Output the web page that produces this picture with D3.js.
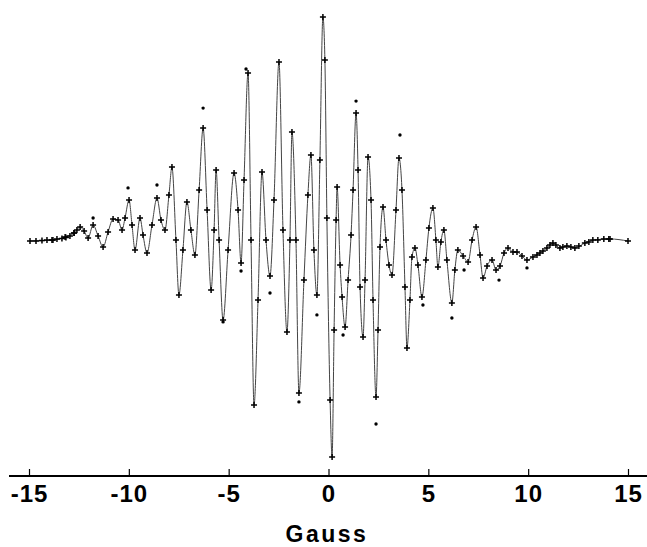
<!DOCTYPE html>
<html>
<head>
<meta charset="utf-8">
<script src="https://cdn.jsdelivr.net/npm/d3@7"></script>
<style>
  body { margin: 0; background: #fff; }
  svg { display: block; }
</style>
</head>
<body>
<svg id="chart"></svg>
<script>
// field positions (Gauss) and signal (arbitrary units) of the fitted curve
const fieldG = [-14.95, -13.80, -13.19, -12.74, -12.44, -12.24, -12.04, -11.79, -11.54, -11.29,
  -11.04, -10.79, -10.54, -10.34, -10.19, -9.99, -9.84, -9.69, -9.44, -9.29,
  -9.09, -8.84, -8.59, -8.39, -8.19, -7.99, -7.84, -7.64, -7.49, -7.29,
  -7.09, -6.89, -6.69, -6.48, -6.28, -6.08, -5.88, -5.73, -5.63, -5.48,
  -5.28, -5.03, -4.73, -4.53, -4.38, -4.23, -4.03, -3.88, -3.73, -3.53,
  -3.33, -3.13, -2.93, -2.73, -2.48, -2.28, -2.08, -1.93, -1.83, -1.63,
  -1.48, -1.23, -1.03, -0.88, -0.73, -0.58, -0.43, -0.28, -0.18, -0.08,
  0.08, 0.18, 0.28, 0.38, 0.43, 0.58, 0.68, 0.83, 0.98, 1.13,
  1.23, 1.38, 1.48, 1.58, 1.73, 1.83, 1.98, 2.13, 2.23, 2.38,
  2.48, 2.58, 2.73, 2.88, 3.03, 3.18, 3.38, 3.53, 3.68, 3.83,
  3.93, 4.08, 4.18, 4.33, 4.48, 4.68, 4.88, 5.03, 5.23, 5.38,
  5.48, 5.63, 5.78, 5.93, 6.18, 6.33, 6.48, 6.74, 6.99, 7.19,
  7.39, 7.59, 7.74, 7.94, 8.19, 8.39, 8.59, 8.79, 8.99, 9.24,
  9.44, 9.69, 9.94, 10.24, 10.59, 10.94, 11.24, 11.59, 11.94, 12.34,
  12.84, 13.24, 14.10, 15.0];
const signal = [0, 0.4, 1.8, 3.5, 6.2, 4.4, 1.3, 7.1, 2.2, -2.7,
  4.0, 9.7, 9.3, 4.9, 10.2, 18.1, 7.1, -4.0, 10.2, 2.7,
  -5.3, 7.1, 19.0, 9.3, 4.9, 20.4, 32.7, 0.4, -23.9, -4.0,
  17.3, 4.9, -6.2, 22.6, 50.0, 13.7, -21.7, 4.9, 31.4, 0.4,
  -35.0, -4.0, 30.1, 13.7, -9.7, 27.0, 74.3, 0.4, -72.6, -26.1,
  30.5, 0.4, -15.5, 18.1, 79.2, 4.9, -40.3, 0.4, 48.2, 0.4,
  -67.3, -17.3, 20.4, 38.1, -4.0, -23.9, 35.8, 99.1, 80.1, 10.2,
  -70.4, -95.6, -39.4, 9.3, 23.9, -10.6, -24.8, -38.1, -17.3, 2.7,
  22.6, 56.6, 31.4, -20.4, -42.5, -17.3, 37.2, 18.1, -26.1, -69.0,
  -39.4, -2.7, 15.0, 0.4, -10.6, -15.0, 13.7, 36.7, 22.6, -20.4,
  -47.3, -26.1, -7.1, -3.1, -10.6, -24.8, -8.4, 5.8, 14.6, 0.4,
  -11.5, -0.4, 4.9, -8.4, -27.4, -12.8, -4.0, -6.6, -9.3, 0.4,
  6.2, -6.2, -16.4, -11.1, -8.4, -12.8, -11.1, -5.3, -3.1, -4.9,
  -4.9, -6.6, -8.4, -7.1, -5.3, -3.1, -0.9, -3.1, -2.2, -3.1,
  -0.9, 0.4, 0.9, 0];

// extra measured points crowding the two wings
const wingG = [-14.65, -14.35, -14.10, -13.85, -13.60, -13.35, -13.15, -12.95, -12.75, -12.60,
  10.44, 10.74, 11.09, 11.39, 11.74, 12.14, 12.54, 13.04, 13.49, 13.79, 14.04];
const wingS = [0, 0.2, 0.4, 0.4, 0.9, 1.1, 1.5, 2.2, 3.5, 4.9,
  -6.2, -4.4, -1.8, -1.8, -2.7, -2.7, -2.2, -0.4, 0.4, 0.9, 0.9];

// stray experimental points lying off the curve
const strayG = [-11.79, -10.04, -8.59, -6.28, -5.28, -4.38, -4.13, -2.93, -1.48, -0.58,
  0.73, 1.38, 2.38, 3.58, 4.73, 6.18, 6.79, 8.54, 9.94];
const strayS = [10.2, 23.5, 24.8, 58.8, -35.8, -13.3, 76.1, -23.0, -71.2, -32.7,
  -41.6, 61.9, -81.0, 46.9, -28.3, -34.1, -12.8, -17.3, -11.9];

const ticks = [-15, -10, -5, 0, 5, 10, 15];
const axisTitle = 'Gauss';

const width = 647, height = 547;
const axisY = 476;

const svg = d3.select('#chart')
  .attr('width', width)
  .attr('height', height);

svg.append('rect').attr('width', width).attr('height', height).attr('fill', '#fff');

const x = d3.scaleLinear().domain([-15, 15]).range([29, 628]);
const y = d3.scaleLinear().domain([-100, 100]).range([467, 15]);

const pts = fieldG.map((g, i) => [g, signal[i]]);
const wing = wingG.map((g, i) => [g, wingS[i]]);

const line = d3.line()
  .x(d => x(d[0]))
  .y(d => y(d[1]))
  .curve(d3.curveMonotoneX);

svg.append('path')
  .datum(pts)
  .attr('d', line)
  .attr('fill', 'none')
  .attr('stroke', '#444')
  .attr('stroke-width', 1);

// "+" markers on the measured points
const cross = 3;
const marks = svg.append('g')
  .attr('stroke', '#000')
  .attr('stroke-width', 1.5);

marks.selectAll('path.cross')
  .data(pts.concat(wing))
  .enter()
  .append('path')
  .attr('class', 'cross')
  .attr('d', d => {
    const cx = x(d[0]), cy = y(d[1]);
    return `M${cx - cross},${cy}H${cx + cross}M${cx},${cy - cross}V${cy + cross}`;
  });

svg.append('g')
  .selectAll('circle')
  .data(strayG.map((g, i) => [g, strayS[i]]))
  .enter()
  .append('circle')
  .attr('cx', d => x(d[0]))
  .attr('cy', d => y(d[1]))
  .attr('r', 1.7)
  .attr('fill', '#000');

// axis
svg.append('line')
  .attr('x1', 9).attr('x2', width)
  .attr('y1', axisY).attr('y2', axisY)
  .attr('stroke', '#000')
  .attr('stroke-width', 2);

const axis = d3.axisBottom(x)
  .tickValues(ticks)
  .tickFormat(d => String(d))
  .tickSize(-7)
  .tickPadding(0);

const gx = svg.append('g')
  .attr('transform', `translate(0,${axisY})`)
  .call(axis);

gx.select('.domain').remove();
gx.selectAll('.tick line').attr('stroke', '#000').attr('stroke-width', 1.2);
gx.selectAll('.tick text')
  .attr('y', 26)
  .attr('dy', 0)
  .attr('fill', '#000')
  .style('font-family', '"Liberation Sans", Arial, sans-serif')
  .style('font-weight', 'bold')
  .style('font-size', '24px')
  .style('letter-spacing', '1px');

svg.append('text')
  .attr('x', 327)
  .attr('y', 542)
  .attr('text-anchor', 'middle')
  .style('font-family', '"Liberation Sans", Arial, sans-serif')
  .style('font-weight', 'bold')
  .style('font-size', '23px')
  .style('letter-spacing', '2.5px')
  .text(axisTitle);
</script>
</body>
</html>
